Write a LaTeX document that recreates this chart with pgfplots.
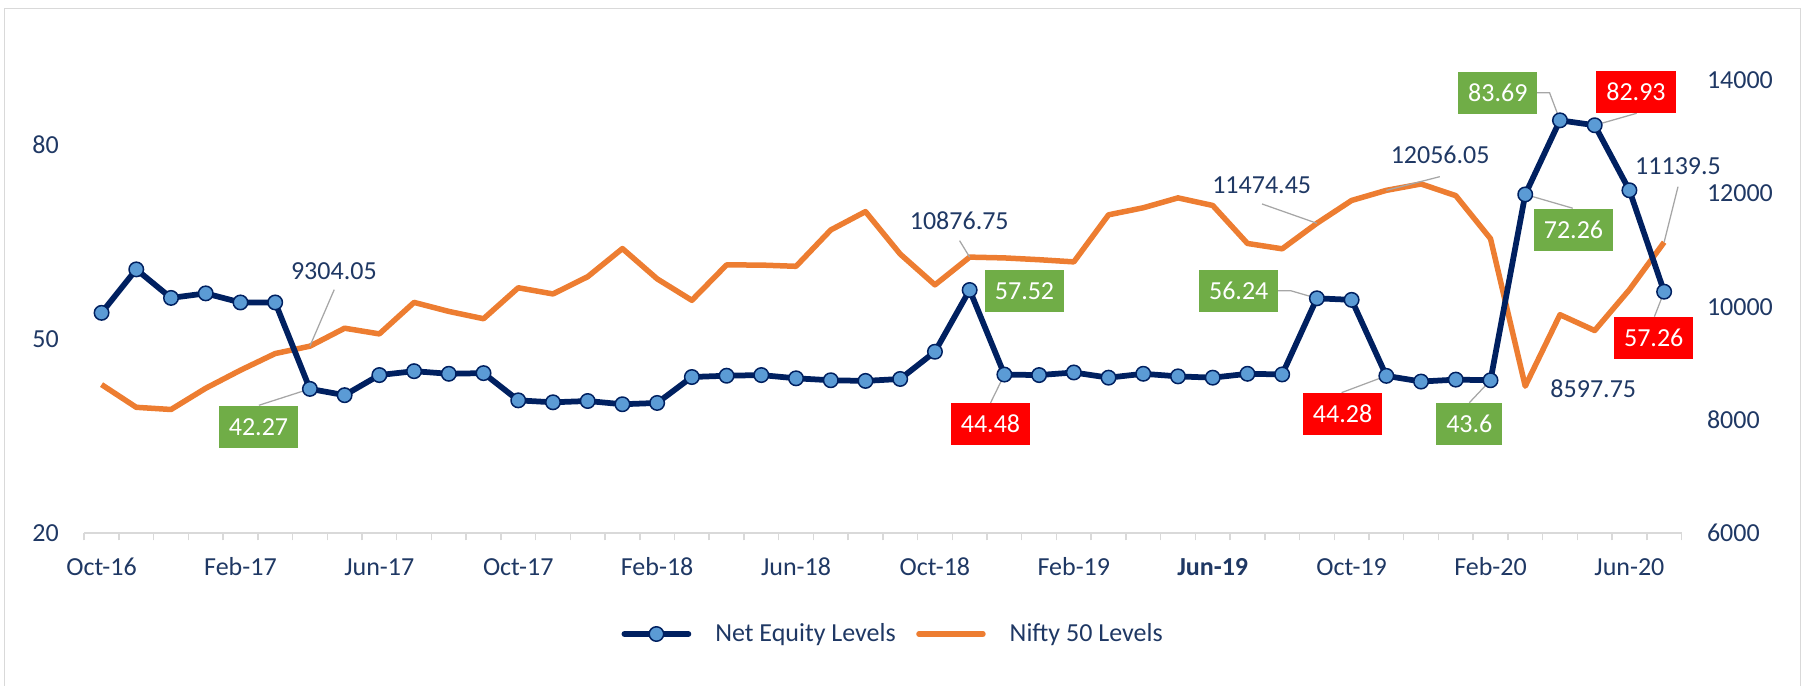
\documentclass[border=0pt]{standalone}
\usepackage{fontspec}
\setmainfont{Carlito}
\usepackage{pgfplots}
\pgfplotsset{compat=1.18}
\definecolor{navy}{HTML}{002060}
\definecolor{mblue}{HTML}{5B9BD5}
\definecolor{orng}{HTML}{ED7D31}
\definecolor{txt}{HTML}{1F3864}
\definecolor{gbox}{HTML}{70AD47}
\definecolor{rbox}{HTML}{FF0000}
\definecolor{axgray}{HTML}{D9D9D9}
\definecolor{lead}{HTML}{A6A6A6}
\newcommand\f{\fontsize{10.4pt}{12.5pt}\selectfont}
\begin{document}
\begin{tikzpicture}
\path[use as bounding box] (-33.68pt,-60.7pt) rectangle (688.7pt,213.3pt);
\draw[axgray, line width=0.6pt] (-31.84pt,-62pt) -- (-31.84pt,210pt) -- (686.56pt,210pt) -- (686.56pt,-62pt);
\pgfplotsset{common/.style={
  at={(0,0)}, anchor=south west, scale only axis,
  width=638.9pt, height=197.1pt,
  xmin=-0.5, xmax=45.5,
  axis line style={draw=none},
  /pgf/number format/assume math mode=true,
  /pgf/number format/1000 sep={},
  scaled y ticks=false,
  tick label style={font=\f, text=txt},
  major tick length=0pt,
  clip=false,
}}
\tikzset{valbox/.style={font=\f, text=white, inner xsep=4pt, inner ysep=0pt, minimum height=16.7pt, anchor=center},
  valtxt/.style={font=\f, text=txt, inner sep=0pt, anchor=center},
  leader/.style={lead, line width=0.5pt}}
% right axis: Nifty 50
\begin{axis}[common, ymin=6000, ymax=14702, ytick={6000,8000,10000,12000,14000},
  yticklabels={6000,8000,10000,12000,14000},
  ytick pos=right, yticklabel pos=right,
  yticklabel style={anchor=west, inner sep=0pt, xshift=10pt},
  hide x axis]
\addplot[orng, line width=2.2pt, line join=round, no markers] coordinates {
(0,8625.7) (1,8224.5) (2,8185.8) (3,8561.3) (4,8879.6) (5,9173.75) (6,9304.05) (7,9621.25)
(8,9520.9) (9,10077.1) (10,9917.9) (11,9788.6) (12,10335.3) (13,10226.55) (14,10530.7) (15,11027.7)
(16,10492.85) (17,10113.7) (18,10739.35) (19,10736.15) (20,10714.3) (21,11356.5) (22,11680.5) (23,10930.45)
(24,10386.6) (25,10876.75) (26,10862.55) (27,10830.95) (28,10792.5) (29,11623.9) (30,11748.15) (31,11922.8)
(32,11788.85) (33,11118) (34,11023.25) (35,11474.45) (36,11877.45) (37,12056.05) (38,12168.45) (39,11962.1)
(40,11201.75) (41,8597.75) (42,9859.9) (43,9580.3) (44,10302.1) (45,11139.5)};
\end{axis}
% left axis: Net Equity
\begin{axis}[common, ymin=20, ymax=96, ytick={20,50,80},
  yticklabels={20,50,80},
  ytick pos=left,
  yticklabel style={anchor=east, inner sep=0pt, xshift=-10pt},
  xtick={0,4,...,44},
  xticklabels={Oct-16,Feb-17,Jun-17,Oct-17,Feb-18,Jun-18,Oct-18,Feb-19,{\textbf{Jun-19}},Oct-19,Feb-20,Jun-20},
  xtick pos=bottom,
  xticklabel style={anchor=base, inner sep=0pt, yshift=-16.7pt},
  minor xtick={-0.5,0.5,...,45.5}, minor tick length=2.8pt, tick align=outside,
  minor tick style={axgray, line width=0.6pt},
  legend style={at={(0.5058,-0.2044)}, anchor=center, draw=none, fill=none, font=\f, text=txt,
    nodes={inner xsep=0pt, inner ysep=0pt},
    /tikz/every odd column/.append style={column sep=9.6pt},
    /tikz/every even column/.append style={column sep=8.2pt}},
  legend columns=2, legend cell align=left,
  legend image code/.code={\draw[mark repeat=2,mark phase=2,#1] plot coordinates {(0pt,0pt) (12.8pt,0pt) (25.6pt,0pt)};}
  ]
\draw[axgray, line width=0.7pt] (rel axis cs:0,0) -- (rel axis cs:1,0);
\draw[leader] (axis cs:6.70,57.57) -- (axis cs:6,48.86);
\draw[leader] (axis cs:4.53,39.74) -- (axis cs:6,42.27);
\draw[leader] (axis cs:24.71,65.13) -- (axis cs:25,62.59);
\draw[leader] (axis cs:25.60,40.10) -- (axis cs:26,44.48);
\draw[leader] (axis cs:41.34,87.96) -- (axis cs:41.70,87.96) -- (axis cs:42,83.69);
\draw[leader] (axis cs:44.21,84.78) -- (axis cs:43,82.93);
\draw[leader] (axis cs:38.54,75.0) -- (axis cs:37,72.89);
\draw[leader] (axis cs:33.42,70.79) -- (axis cs:35,67.81);
\draw[leader] (axis cs:45.40,73.46) -- (axis cs:45,64.89);
\draw[leader] (axis cs:42.37,70.13) -- (axis cs:41,72.26);
\draw[leader] (axis cs:33.87,57.42) -- (axis cs:34.24,57.42) -- (axis cs:35,56.24);
\draw[leader] (axis cs:44.72,53.41) -- (axis cs:45,57.26);
\draw[leader] (axis cs:35.71,41.69) -- (axis cs:37,44.28);
\draw[leader] (axis cs:39.39,40.14) -- (axis cs:40,43.6);
\addplot[navy, line width=2.3pt, line join=round, line cap=round, mark=*, mark size=2.9pt,
  mark options={fill=mblue, draw=navy, line width=0.6pt}] coordinates {
(0,54.0) (1,60.7) (2,56.3) (3,57.0) (4,55.6) (5,55.6) (6,42.27) (7,41.3)
(8,44.4) (9,45.0) (10,44.6) (11,44.7) (12,40.5) (13,40.2) (14,40.4) (15,39.9)
(16,40.1) (17,44.1) (18,44.3) (19,44.4) (20,43.9) (21,43.6) (22,43.5) (23,43.8)
(24,48.0) (25,57.52) (26,44.48) (27,44.4) (28,44.8) (29,44.0) (30,44.6) (31,44.2)
(32,44.0) (33,44.6) (34,44.5) (35,56.24) (36,56.0) (37,44.28) (38,43.4) (39,43.7)
(40,43.6) (41,72.26) (42,83.69) (43,82.93) (44,72.9) (45,57.26)};
\addlegendentry{Net Equity Levels}
\addlegendimage{orng, line width=2.2pt, line cap=round}
\addlegendentry{Nifty 50 Levels}
\node[valtxt] at (axis cs:6.69,60.5) {9304.05};
\node[valbox, fill=gbox] at (axis cs:4.52,36.43) {42.27};
\node[valtxt] at (axis cs:24.70,68.17) {10876.75};
\node[valbox, fill=gbox] at (axis cs:26.58,57.41) {57.52};
\node[valbox, fill=rbox] at (axis cs:25.60,36.89) {44.48};
\node[valbox, fill=gbox] at (axis cs:40.21,87.95) {83.69};
\node[valbox, fill=rbox] at (axis cs:44.19,88.10) {82.93};
\node[valtxt] at (axis cs:38.55,78.35) {12056.05};
\node[valtxt] at (axis cs:33.41,73.68) {11474.45};
\node[valtxt] at (axis cs:45.40,76.55) {11139.5};
\node[valbox, fill=gbox] at (axis cs:42.39,66.78) {72.26};
\node[valbox, fill=gbox] at (axis cs:32.75,57.41) {56.24};
\node[valbox, fill=rbox] at (axis cs:44.70,50.09) {57.26};
\node[valbox, fill=rbox] at (axis cs:35.74,38.43) {44.28};
\node[valbox, fill=gbox] at (axis cs:39.39,36.89) {43.6};
\node[valtxt] at (axis cs:42.96,42.37) {8597.75};
\end{axis}
\end{tikzpicture}
\end{document}
